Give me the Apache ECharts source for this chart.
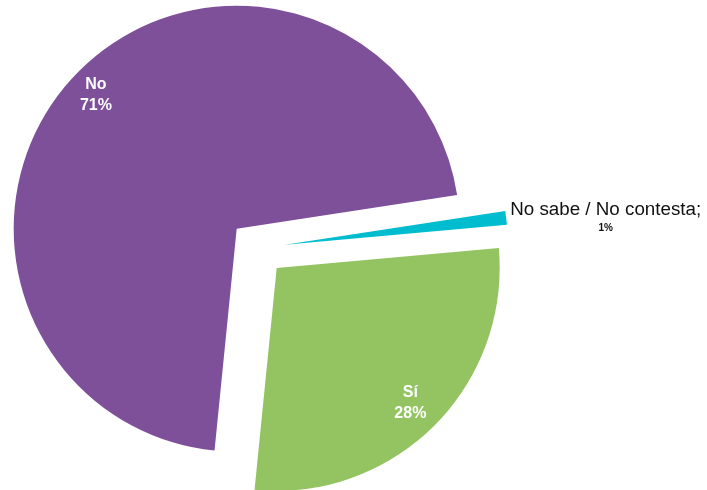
<!DOCTYPE html>
<html>
<head>
<meta charset="utf-8">
<script src="https://cdn.jsdelivr.net/npm/echarts@6/dist/echarts.min.js"></script>
<style>
  html, body { margin: 0; padding: 0; background: #fff; }
  #chart { width: 707px; height: 490px; }
</style>
</head>
<body>
<div id="chart"></div>
<script>
  // answers, in clockwise order from the start angle
  const categories = ['No', 'No sabe / No contesta', 'Sí'];
  const values = [71, 1, 28];

  const colors = ['#7e509a', '#00bccf', '#94c462'];
  const font = '"Liberation Sans", Arial, sans-serif';

  const center = [257, 248];
  const radius = 223;
  const explode = 28;
  const startAngle = 264.3;

  const chart = echarts.init(document.getElementById('chart'));

  // main pie, only the small slice keeps an outside label
  const mainData = categories.map((name, i) => {
    const item = {
      name: name,
      value: values[i],
      selected: true,
      itemStyle: { color: colors[i] },
      label: { show: false }
    };
    if (i === 1) {
      item.label = {
        show: true,
        position: 'outside',
        formatter: '{a|{b};}\n{p|{c}%}',
        overflow: 'none',
        bleedMargin: 0,
        distanceToLabelLine: 3,
        rich: {
          a: { fontSize: 18.8, lineHeight: 22, color: '#111', fontFamily: font },
          p: { fontSize: 10, fontWeight: 'bold', lineHeight: 15, color: '#111', align: 'center', fontFamily: font }
        }
      };
      item.labelLine = { show: false, length: 1, length2: 0 };
    }
    return item;
  });

  // transparent ring that only carries the white label of one slice
  function labelRing(inner, idx) {
    return {
      type: 'pie',
      silent: true,
      center: center,
      radius: [inner, radius],
      startAngle: startAngle,
      selectedMode: 'multiple',
      selectedOffset: explode,
      emphasis: { disabled: true },
      select: { itemStyle: { borderWidth: 0 } },
      label: {
        position: 'inside',
        formatter: '{b}\n{c}%',
        color: '#fff',
        fontSize: 16,
        fontWeight: 'bold',
        lineHeight: 21,
        fontFamily: font
      },
      labelLine: { show: false },
      data: categories.map((name, i) => ({
        name: name,
        value: values[i],
        selected: true,
        itemStyle: { color: 'rgba(0,0,0,0)' },
        label: { show: i === idx }
      }))
    };
  }

  chart.setOption({
    animation: false,
    textStyle: { fontFamily: font },
    series: [
      {
        type: 'pie',
        center: center,
        radius: [0, radius],
        startAngle: startAngle,
        selectedMode: 'multiple',
        selectedOffset: explode,
        avoidLabelOverlap: false,
        emphasis: { disabled: true },
        select: { itemStyle: { borderWidth: 0 } },
        data: mainData
      },
      labelRing(159, 0),
      labelRing(151, 2)
    ]
  });
</script>
</body>
</html>
